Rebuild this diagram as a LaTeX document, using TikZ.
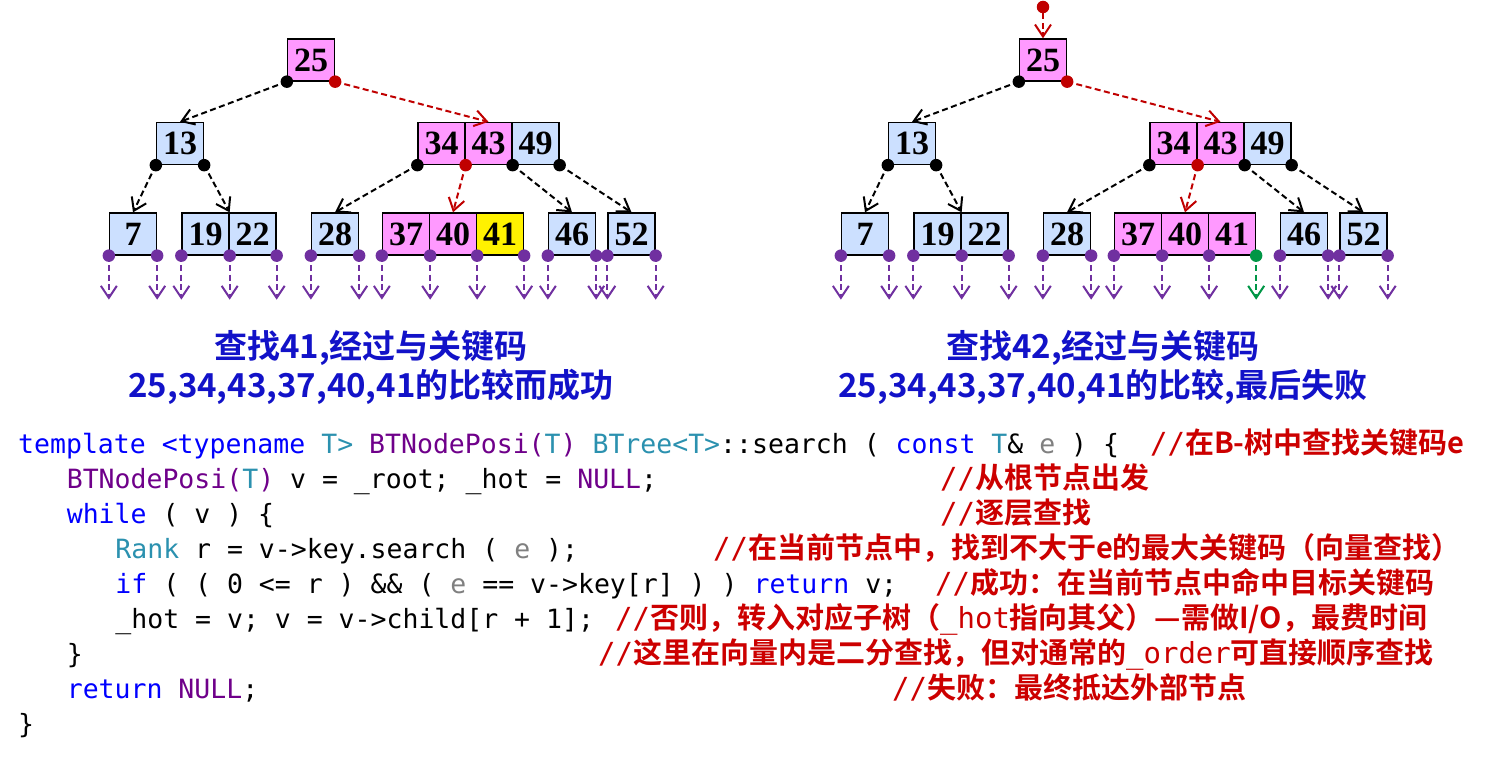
\documentclass[tikz,border=0pt]{standalone}
\usepackage{fontspec}
\setmainfont{Liberation Serif}
\newfontfamily\cjkb{Noto Sans CJK SC Bold}
\newfontfamily\mono{DejaVu Sans Mono}
\usetikzlibrary{arrows.meta}
\definecolor{pinkk}{RGB}{255,153,255}
\definecolor{lblue}{RGB}{204,224,255}
\definecolor{purp}{RGB}{112,48,160}
\definecolor{dred}{RGB}{192,0,0}
\definecolor{grn}{RGB}{0,150,70}
\definecolor{kw}{RGB}{0,0,255}
\definecolor{ty}{RGB}{43,145,175}
\definecolor{mac}{RGB}{111,0,138}
\definecolor{gry}{RGB}{128,128,128}
\definecolor{cmt}{RGB}{204,0,0}
\definecolor{capb}{RGB}{18,18,200}
\tikzset{
  key/.style={draw=black, line width=1.3pt, minimum width=47pt, minimum height=42pt, inner sep=0pt,
    font=\fontsize{34}{34}\selectfont\bfseries},
  keyp/.style={key, fill=pinkk},
  keyb/.style={key, fill=lblue},
  dotn/.style={circle, inner sep=0pt, minimum size=12.5pt},
  bedge/.style={->, draw=black, dash pattern=on 6pt off 3.5pt, line width=2pt},
  redge/.style={->, draw=dred, dash pattern=on 6pt off 3.5pt, line width=2pt},
  pext/.style={->, dash pattern=on 6pt off 3.5pt, line width=2pt},
  codeline/.style={anchor=base west, inner sep=0pt, font=\mono\fontsize{26.5}{30}\selectfont},
  cmtline/.style={anchor=base west, inner sep=0pt, text=cmt, font=\cjkb\fontsize{29}{30}\selectfont},
  caption/.style={anchor=base, inner sep=0pt, text=capb, font=\cjkb\fontsize{33}{36}\selectfont},
}
\newcommand\cmtsl{{\mono //}}
\newcommand\btree[3]{%
  \node[keyp] (#1k25) at (311,60) {25};
  \node[keyb] (#1k13) at (180,143.5) {13};
  \node[keyp] (#1k34) at (441.5,143.5) {34};
  \node[keyp] (#1k43) at (488.5,143.5) {43};
  \node[keyb] (#1k49) at (535.5,143.5) {49};
  \node[keyb] (#1k7) at (133,234) {7};
  \node[keyb] (#1k19) at (205.5,234) {19};
  \node[keyb] (#1k22) at (252.5,234) {22};
  \node[keyb] (#1k28) at (335,234) {28};
  \node[keyp] (#1k37) at (406,234) {37};
  \node[keyp] (#1k40) at (453,234) {40};
  \node[key,fill=#2] (#1k41) at (500,234) {41};
  \node[keyb] (#1k46) at (572,234) {46};
  \node[keyb] (#1k52) at (631.5,234) {52};
  \draw[bedge] (#1k25.south west) -- (#1k13.north);
  \draw[redge] (#1k25.south east) -- (#1k43.north);
  \draw[bedge] (#1k13.south west) -- (#1k7.north);
  \draw[bedge] (#1k13.south east) -- (#1k19.north east);
  \draw[bedge] (#1k34.south west) -- (#1k28.north);
  \draw[redge] (#1k34.south east) -- (#1k40.north);
  \draw[bedge] (#1k43.south east) -- (#1k46.north);
  \draw[bedge] (#1k49.south east) -- (#1k52.north);
  \foreach \n/\s in {k25/south west,k13/south west,k13/south east,k34/south west,k43/south east,k49/south east}
    {\node[dotn,fill=black] at (#1\n.\s) {};}
  \foreach \n/\s in {k25/south east,k34/south east}
    {\node[dotn,fill=dred] at (#1\n.\s) {};}
  \foreach \n/\s in {k7/south west,k7/south east,k19/south west,k19/south east,k22/south east,
      k28/south west,k28/south east,k37/south west,k37/south east,k40/south east,
      k46/south west,k46/south east,k52/south west,k52/south east}
    {\draw[pext,draw=purp] (#1\n.\s) -- ([yshift=-44pt]#1\n.\s);
     \node[dotn,fill=purp] at (#1\n.\s) {};}
  \draw[pext,draw=#3] (#1k41.south east) -- ([yshift=-44pt]#1k41.south east);
  \node[dotn,fill=#3] at (#1k41.south east) {};
}
\begin{document}
\begin{tikzpicture}[x=1pt,y=-1pt,>={Straight Barb[length=12pt,width=16pt]}]
\useasboundingbox (0,0) rectangle (1485,759);
\fill[white] (0,0) rectangle (1485,759);
% trees
\btree{L}{yellow}{purp}
\begin{scope}[xshift=732pt]
  \btree{R}{pinkk}{grn}
  \node[dotn,fill=dred] (Rtop) at (311,7) {};
  \draw[redge] (Rtop) -- (Rk25.north);
\end{scope}
% captions
\node[caption] (capL1) at (371,358) {查找41,经过与关键码};
\node[caption] (capL2) at (371,397) {25,34,43,37,40,41的比较而成功};
\node[caption] (capR1) at (1103,358) {查找42,经过与关键码};
\node[caption] (capR2) at (1103,397) {25,34,43,37,40,41的比较,最后失败};
% code
\node[codeline] (c1) at (18,453) {{\color{kw}template <typename} {\color{ty}T>} {\color{mac}BTNodePosi(}{\color{ty}T}{\color{mac})} {\color{ty}BTree<T>}::search ( {\color{kw}const} {\color{ty}T}\& {\color{gry}e} ) \{};
\node[codeline] (c2) at (66.6,488) {{\color{mac}BTNodePosi(}{\color{ty}T}{\color{mac})} v = \_root; \_hot = {\color{mac}NULL};};
\node[codeline] (c3) at (66.6,523) {{\color{kw}while} ( v ) \{};
\node[codeline] (c4) at (115.2,558) {{\color{ty}Rank} r = v->key.search ( {\color{gry}e} );};
\node[codeline] (c5) at (115.2,593) {{\color{kw}if} ( ( 0 <= r ) \&\& ( {\color{gry}e} == v->key[r] ) ) {\color{kw}return} v;};
\node[codeline] (c6) at (115.2,628) {\_hot = v; v = v->child[r + 1];};
\node[codeline] (c7) at (66.6,663) {\}};
\node[codeline] (c8) at (66.6,698) {{\color{kw}return} {\color{mac}NULL};};
\node[codeline] (c9) at (18,733) {\}};
% comments
\node[cmtline] (m1) at (1150,453) {\cmtsl 在B-树中查找关键码e};
\node[cmtline] (m2) at (940,488) {\cmtsl 从根节点出发};
\node[cmtline] (m3) at (940,523) {\cmtsl 逐层查找};
\node[cmtline] (m4) at (713,558) {\cmtsl 在当前节点中，找到不大于e的最大关键码（向量查找）};
\node[cmtline] (m5) at (935,593) {\cmtsl 成功：在当前节点中命中目标关键码};
\node[cmtline] (m6) at (615,628) {\cmtsl 否则，转入对应子树（{\mono\_hot}指向其父）—需做I/O，最费时间};
\node[cmtline] (m7) at (598,663) {\cmtsl 这里在向量内是二分查找，但对通常的{\mono\_order}可直接顺序查找};
\node[cmtline] (m8) at (892,698) {\cmtsl 失败：最终抵达外部节点};
\end{tikzpicture}
\end{document}
